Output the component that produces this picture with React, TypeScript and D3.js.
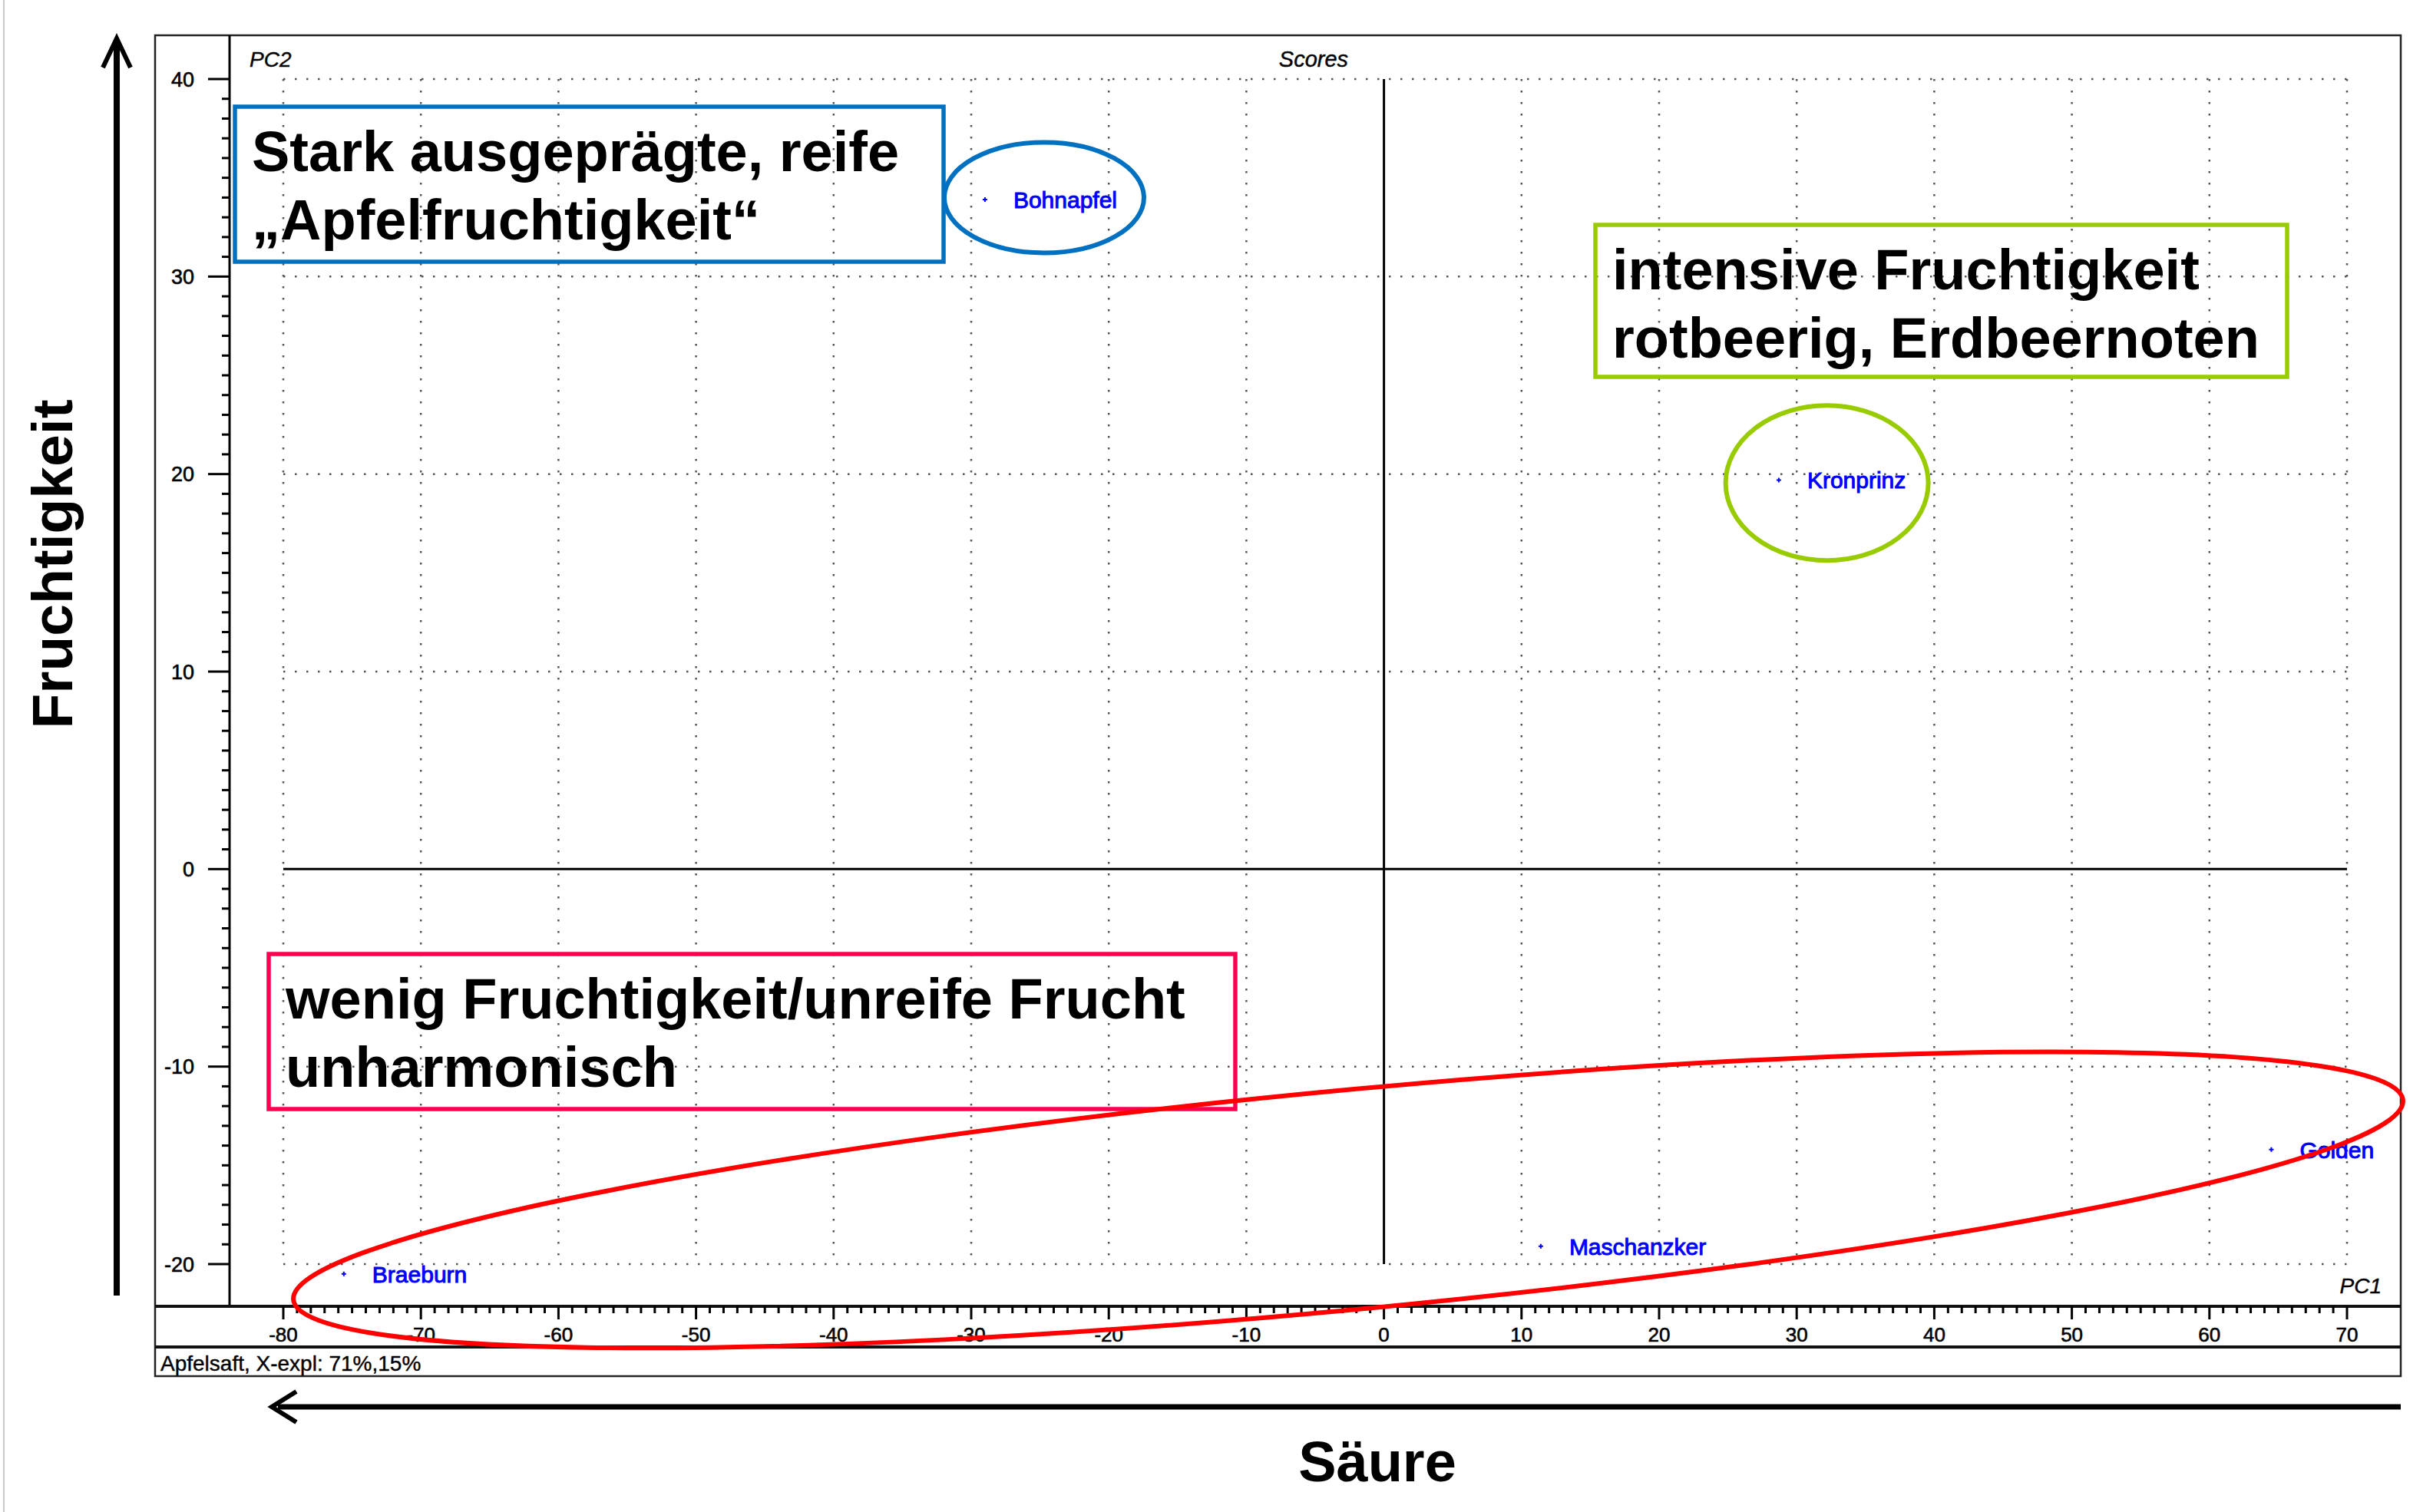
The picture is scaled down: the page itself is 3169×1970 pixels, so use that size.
//@ts-nocheck
import React from "react";
import * as d3 from "d3";

// score plot data (PC1, PC2)
const cultivars = ["Bohnapfel", "Kronprinz", "Golden", "Maschanzker", "Braeburn"];
const pc1 = [-29.0, 28.7, 64.5, 11.4, -75.6];
const pc2 = [33.9, 19.7, -14.2, -19.1, -20.5];

const xTicks = [-80, -70, -60, -50, -40, -30, -20, -10, 0, 10, 20, 30, 40, 50, 60, 70];
const yTicks = [-20, -10, 0, 10, 20, 30, 40];

const caption = "Apfelsaft, X-expl: 71%,15%";

// hand drawn annotations (centre in PC units)
const rings = [
  { cx: -24.7, cy: 34.0, rx: 130, ry: 72, rot: 0, color: "#0070C0" },
  { cx: 32.2, cy: 19.55, rx: 132, ry: 101, rot: 0, color: "#99CC00" },
  { cx: -2.6, cy: -16.75, rx: 1380, ry: 143, rot: -5.41, color: "#FF0000" },
];
const notes = [
  { x: 306, y: 139, w: 923, h: 202, color: "#0070C0", lines: ["Stark ausgeprägte, reife", "„Apfelfruchtigkeit“"] },
  { x: 2078, y: 293, w: 901, h: 198, color: "#99CC00", lines: ["intensive Fruchtigkeit", "rotbeerig, Erdbeernoten"] },
  { x: 350, y: 1243, w: 1259, h: 202, color: "#FF0050", lines: ["wenig Fruchtigkeit/unreife Frucht", "unharmonisch"] },
];

const W = 3169;
const H = 1970;
const font = "'Liberation Sans', Arial, sans-serif";

export default function App() {
  const x = d3.scaleLinear().domain([-80, 70]).range([369, 3057]);
  const y = d3.scaleLinear().domain([-20, 40]).range([1647, 103]);

  const frame = { l: 202, t: 46, r: 3127, b: 1793 };
  const axisX = 299;
  const stripTop = 1702;
  const stripBot = 1755;

  const xMinor = d3.range(-80, 71, 1);
  const yMinor = d3.range(-20, 41, 1);

  return (
    <svg
      width={W}
      height={H}
      style={{ position: "absolute", left: 0, top: 0, background: "#fff" }}
      fontFamily={font}
    >
      <rect x={0} y={0} width={W} height={H} fill="#fff" />
      <line x1={5} x2={5} y1={0} y2={H} stroke="#c8c8c8" strokeWidth={2} />

      {/* frame */}
      <rect x={frame.l} y={frame.t} width={frame.r - frame.l} height={frame.b - frame.t} fill="none" stroke="#222" strokeWidth={2.5} />
      <line x1={axisX} x2={axisX} y1={frame.t} y2={stripTop} stroke="#000" strokeWidth={3} />
      <line x1={frame.l} x2={frame.r} y1={stripTop} y2={stripTop} stroke="#111" strokeWidth={4} />
      <line x1={frame.l} x2={frame.r} y1={stripBot} y2={stripBot} stroke="#111" strokeWidth={4} />

      {/* grid */}
      {xTicks.filter((d) => d !== 0).map((d) => (
        <line key={"gx" + d} x1={x(d)} x2={x(d)} y1={y(40)} y2={y(-20)} stroke="#555" strokeWidth={2.5} strokeDasharray="2.5 12.5" />
      ))}
      {yTicks.filter((d) => d !== 0).map((d) => (
        <line key={"gy" + d} x1={x(-80)} x2={x(70)} y1={y(d)} y2={y(d)} stroke="#555" strokeWidth={2.5} strokeDasharray="2.5 12.5" />
      ))}
      <line x1={x(0)} x2={x(0)} y1={y(40)} y2={y(-20)} stroke="#000" strokeWidth={3} />
      <line x1={x(-80)} x2={x(70)} y1={y(0)} y2={y(0)} stroke="#000" strokeWidth={3} />

      {/* y axis */}
      {yMinor.map((d) => (
        <line key={"ym" + d} x1={axisX - (d % 10 === 0 ? 28 : 10)} x2={axisX} y1={y(d)} y2={y(d)} stroke="#000" strokeWidth={3} />
      ))}
      {yTicks.map((d) => (
        <text key={"yl" + d} x={253} y={y(d)} dy="0.36em" textAnchor="end" fontSize={27} fill="#000" stroke="#000" strokeWidth={0.6}>{d}</text>
      ))}

      {/* x axis */}
      {xMinor.map((d) => (
        <line key={"xm" + d} x1={x(d)} x2={x(d)} y1={stripTop} y2={stripTop + (d % 10 === 0 ? 17 : 9)} stroke="#000" strokeWidth={3} />
      ))}
      {xTicks.map((d) => (
        <text key={"xl" + d} x={x(d)} y={1748} textAnchor="middle" fontSize={26} fill="#000" stroke="#000" strokeWidth={0.6}>{d}</text>
      ))}

      <text x={325} y={87} fontSize={28} fontStyle="italic" stroke="#000" strokeWidth={0.4}>PC2</text>
      <text x={1711} y={87} fontSize={29} fontStyle="italic" textAnchor="middle" stroke="#000" strokeWidth={0.4}>Scores</text>
      <text x={3102} y={1685} fontSize={28} fontStyle="italic" textAnchor="end" stroke="#000" strokeWidth={0.4}>PC1</text>
      <text x={209} y={1786} fontSize={28} stroke="#000" strokeWidth={0.4}>{caption}</text>

      {/* scores */}
      {cultivars.map((c, i) => {
        const px = x(pc1[i]);
        const py = y(pc2[i]);
        return (
          <g key={c}>
            <path d={`M${px - 3},${py}H${px + 3}M${px},${py - 3}V${py + 3}`} stroke="#0000FF" strokeWidth={2} />
            <text x={px + 37} y={py} dy="0.36em" fontSize={30} fill="#0000FF" stroke="#0000FF" strokeWidth={1}>{c}</text>
          </g>
        );
      })}

      {/* annotation boxes */}
      {notes.map((n, i) => (
        <g key={"n" + i}>
          <rect x={n.x} y={n.y} width={n.w} height={n.h} fill="none" stroke={n.color} strokeWidth={5.5} />
          {n.lines.map((t, j) => (
            <text key={j} x={n.x + 22} y={n.y + 84 + j * 89} fontSize={74} fontWeight="bold" fill="#000">{t}</text>
          ))}
        </g>
      ))}

      {/* annotation rings */}
      {rings.map((r, i) => (
        <ellipse
          key={"r" + i}
          cx={0}
          cy={0}
          rx={r.rx}
          ry={r.ry}
          transform={`translate(${x(r.cx)},${y(r.cy)}) rotate(${r.rot})`}
          fill="none"
          stroke={r.color}
          strokeWidth={6}
        />
      ))}

      {/* axis arrows */}
      <line x1={152} x2={152} y1={1688} y2={56} stroke="#000" strokeWidth={8} />
      <path d="M134,88 L152,50 L170,88" fill="none" stroke="#000" strokeWidth={6} />
      <line x1={3127} x2={362} y1={1833} y2={1833} stroke="#000" strokeWidth={7} />
      <path d="M386,1813 L354,1833 L386,1853" fill="none" stroke="#000" strokeWidth={6} />

      <text transform="translate(94,735) rotate(-90)" textAnchor="middle" fontSize={75} fontWeight="bold">Fruchtigkeit</text>
      <text x={1794} y={1930} textAnchor="middle" fontSize={74} fontWeight="bold">Säure</text>
    </svg>
  );
}
